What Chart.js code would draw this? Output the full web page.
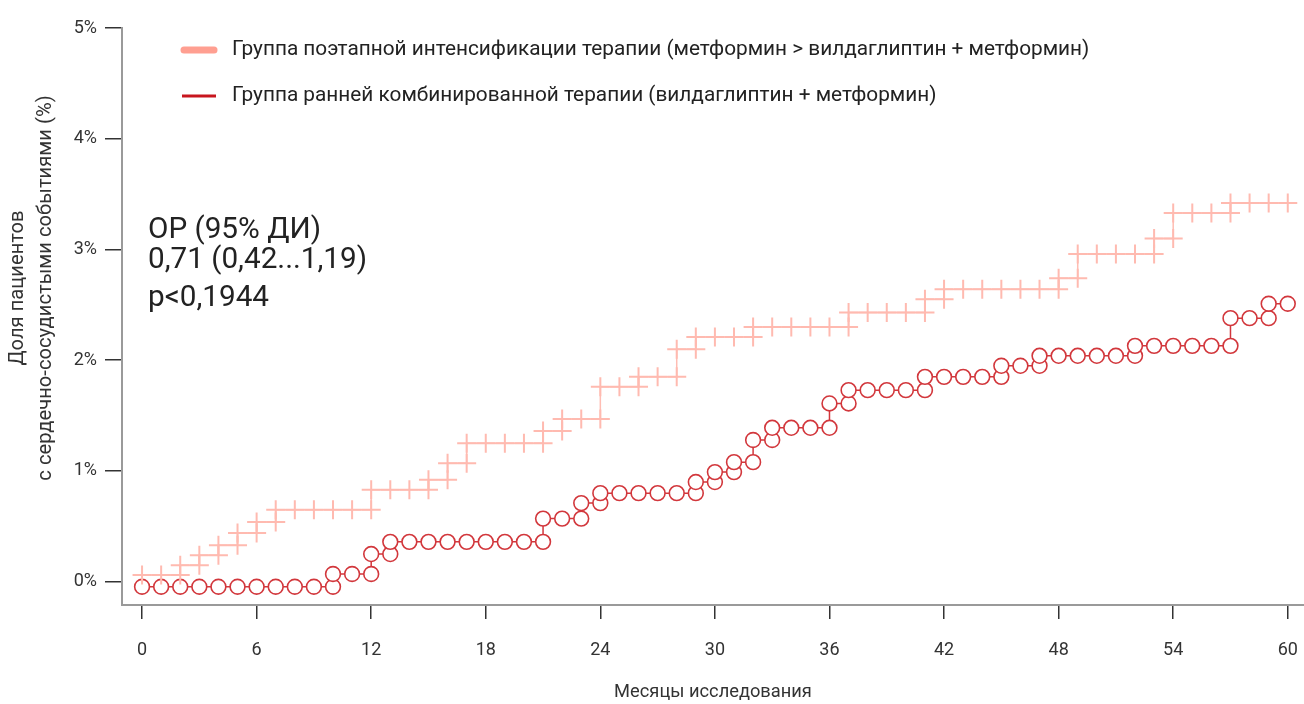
<!DOCTYPE html>
<html>
<head>
<meta charset="utf-8">
<script src="https://cdn.jsdelivr.net/npm/chart.js@4.4.1/dist/chart.umd.min.js"></script>
<style>
  html, body { margin: 0; padding: 0; background: #fff; }
  #wrap { width: 1304px; height: 704px; position: relative; }
</style>
</head>
<body>
<div id="wrap"><canvas id="km"></canvas></div>
<script>
// months 0..60 and the share of patients with events (%)
const months = Array.from({ length: 61 }, (_, i) => i);
const monthTicks = [0, 6, 12, 18, 24, 30, 36, 42, 48, 54, 60];
const pctTicks = [0, 1, 2, 3, 4, 5];

const stagedPct = [
  0.06, 0.06, 0.15, 0.24, 0.33, 0.44, 0.54, 0.65, 0.65, 0.65,
  0.65, 0.65, 0.83, 0.83, 0.83, 0.92, 1.07, 1.25, 1.25, 1.25,
  1.25, 1.36, 1.47, 1.47, 1.76, 1.76, 1.85, 1.85, 2.10, 2.21,
  2.21, 2.21, 2.30, 2.30, 2.30, 2.30, 2.30, 2.43, 2.43, 2.43,
  2.43, 2.55, 2.64, 2.64, 2.64, 2.64, 2.64, 2.64, 2.74, 2.96,
  2.96, 2.96, 2.96, 3.10, 3.33, 3.33, 3.33, 3.42, 3.42, 3.42,
  3.42
];
const earlyPct = [
  -0.045, -0.045, -0.045, -0.045, -0.045, -0.045, -0.045, -0.045, -0.045, -0.045,
  0.07, 0.07, 0.25, 0.36, 0.36, 0.36, 0.36, 0.36, 0.36, 0.36,
  0.36, 0.57, 0.57, 0.71, 0.80, 0.80, 0.80, 0.80, 0.80, 0.90,
  0.99, 1.08, 1.28, 1.39, 1.39, 1.39, 1.61, 1.73, 1.73, 1.73,
  1.73, 1.85, 1.85, 1.85, 1.85, 1.95, 1.95, 2.04, 2.04, 2.04,
  2.04, 2.04, 2.13, 2.13, 2.13, 2.13, 2.13, 2.38, 2.38, 2.51,
  2.51
];

const seriesLabels = [
  'Группа поэтапной интенсификации терапии (метформин > вилдаглиптин + метформин)',
  'Группа ранней комбинированной терапии (вилдаглиптин + метформин)'
];
const statLines = ['ОР (95% ДИ)', '0,71 (0,42...1,19)', 'p<0,1944'];

// step curve: at a month where the level changes, mark both the old and the new level
function stepPoints(vals) {
  const pts = [];
  months.forEach((m, i) => {
    if (i > 0 && vals[i] !== vals[i - 1]) pts.push({ x: m, y: vals[i - 1] });
    pts.push({ x: m, y: vals[i] });
  });
  return pts;
}

const FONT = 'Roboto';

const overlay = {
  id: 'overlay',
  afterDraw(chart) {
    const ctx = chart.ctx;
    ctx.save();
    // legend
    const legendY = [50, 96];
    chart.data.datasets.forEach((ds, i) => {
      const y = legendY[i];
      ctx.strokeStyle = ds.legendColor;
      ctx.lineWidth = ds.legendWidth;
      ctx.lineCap = i === 0 ? 'round' : 'butt';
      ctx.beginPath();
      ctx.moveTo(i === 0 ? 184 : 182, y);
      ctx.lineTo(i === 0 ? 214 : 216, y);
      ctx.stroke();
      ctx.fillStyle = '#222';
      ctx.font = '20.8px ' + FONT;
      ctx.textBaseline = 'middle';
      ctx.textAlign = 'left';
      ctx.fillText(ds.label, 232, y);
    });
    // hazard ratio block
    ctx.font = '29.7px ' + FONT;
    ctx.textBaseline = 'alphabetic';
    ctx.fillStyle = '#222';
    const base = [238, 268, 306];
    statLines.forEach((t, i) => ctx.fillText(t, 148, base[i]));
    // y axis title (two lines)
    ctx.translate(0, 288);
    ctx.rotate(-Math.PI / 2);
    ctx.font = '20.2px ' + FONT;
    ctx.fillStyle = '#333';
    ctx.textAlign = 'center';
    ctx.textBaseline = 'middle';
    ctx.fillText('Доля пациентов', 0, 18);
    ctx.fillText('с сердечно-сосудистыми событиями (%)', 0, 46);
    ctx.restore();
  }
};

new Chart(document.getElementById('km'), {
  type: 'scatter',
  data: {
    datasets: [
      {
        label: seriesLabels[0],
        data: stepPoints(stagedPct),
        showLine: true,
        borderColor: '#FFBDB3',
        borderWidth: 1.5,
        pointStyle: 'cross',
        pointRadius: 9.5,
        pointBorderWidth: 2,
        pointBorderColor: '#FFBAB0',
        pointBackgroundColor: '#FFBAB0',
        legendColor: '#FF9F91',
        legendWidth: 7,
        clip: false
      },
      {
        label: seriesLabels[1],
        data: stepPoints(earlyPct),
        showLine: true,
        borderColor: '#D2373C',
        borderWidth: 1.5,
        pointStyle: 'circle',
        pointRadius: 7.4,
        pointBorderWidth: 1.6,
        pointBorderColor: '#D2373C',
        pointBackgroundColor: '#ffffff',
        legendColor: '#C8161E',
        legendWidth: 3,
        clip: false
      }
    ]
  },
  options: {
    responsive: true,
    maintainAspectRatio: false,
    animation: false,
    layout: { autoPadding: false, padding: { top: 28, right: 0, bottom: 0, left: 0 } },
    plugins: {
      legend: { display: false },
      tooltip: { enabled: false }
    },
    scales: {
      x: {
        type: 'linear',
        min: -1.05,
        max: 60.85,
        afterFit: s => { s.height = 99; s.paddingLeft = 0; s.paddingRight = 0; },
        afterBuildTicks: s => { s.ticks = monthTicks.map(v => ({ value: v })); },
        border: { display: true, color: '#9a9a9a', width: 2 },
        grid: { drawOnChartArea: false, drawTicks: true, tickLength: 14, color: '#333', lineWidth: 1.5 },
        ticks: { padding: 21, color: '#333', maxRotation: 0, autoSkip: false, font: { family: FONT, size: 18 } },
        title: {
          display: true,
          text: 'Месяцы исследования',
          color: '#333',
          font: { family: FONT, size: 18.3 },
          padding: { top: 0, bottom: 1 }
        }
      },
      y: {
        type: 'linear',
        min: -0.21,
        max: 5,
        afterFit: s => { s.width = 122; s.paddingTop = 0; s.paddingBottom = 0; },
        afterBuildTicks: s => { s.ticks = pctTicks.map(v => ({ value: v })); },
        border: { display: true, color: '#9a9a9a', width: 2 },
        grid: { drawOnChartArea: false, drawTicks: true, tickLength: 17, color: '#333', lineWidth: 1.5 },
        ticks: {
          padding: 8,
          color: '#333',
          font: { family: FONT, size: 18 },
          callback: v => v + '%'
        }
      }
    }
  },
  plugins: [overlay]
});
</script>
</body>
</html>
